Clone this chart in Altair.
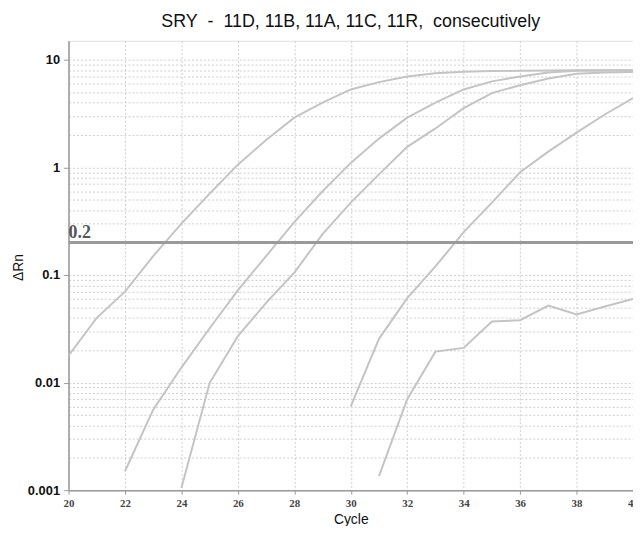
import altair as alt
import pandas as pd

# ---- data ----
samples = ["11D", "11B", "11A", "11C", "11R"]

cyc_11D = list(range(20, 41))
val_11D = [0.0178, 0.040, 0.070, 0.15, 0.30, 0.57, 1.06, 1.8, 2.9, 4.0, 5.3,
           6.2, 7.0, 7.5, 7.75, 7.85, 7.9, 7.95, 8.0, 8.0, 8.0]

cyc_11B = list(range(22, 41))
val_11B = [0.0015, 0.0056, 0.0138, 0.032, 0.072, 0.15, 0.31, 0.60, 1.1, 1.85,
           2.9, 4.0, 5.3, 6.3, 7.0, 7.6, 7.9, 7.95, 8.0]

cyc_11A = list(range(24, 41))
val_11A = [0.00105, 0.0099, 0.027, 0.055, 0.105, 0.24, 0.47, 0.86, 1.55, 2.3,
           3.55, 4.9, 5.8, 6.7, 7.4, 7.6, 7.7]

cyc_11C = list(range(30, 41))
val_11C = [0.006, 0.0255, 0.061, 0.12, 0.25, 0.47, 0.9, 1.4, 2.1, 3.1, 4.4]

cyc_11R = list(range(31, 41))
val_11R = [0.00135, 0.007, 0.0194, 0.021, 0.037, 0.038, 0.052, 0.043, 0.051, 0.06]

threshold = [0.2]
threshold_label = ["0.2"]

x_ticks = [20, 22, 24, 26, 28, 30, 32, 34, 36, 38, 40]
y_ticks = [0.001, 0.01, 0.1, 1, 10]

title_text = "SRY\u00a0\u00a0-\u00a0\u00a011D, 11B, 11A, 11C, 11R,\u00a0\u00a0consecutively"

# ---- build table ----
rows = []
for name, cs, vs in [("11D", cyc_11D, val_11D), ("11B", cyc_11B, val_11B),
                     ("11A", cyc_11A, val_11A), ("11C", cyc_11C, val_11C),
                     ("11R", cyc_11R, val_11R)]:
    for c, v in zip(cs, vs):
        rows.append({"sample": name, "cycle": c, "value": v})
df = pd.DataFrame(rows)

# minor log grid positions (axis styling)
y_grid = sorted({round(d * m, 6) for d in y_ticks[:-1] for m in range(1, 10)} | {10.0})
decade_test = "indexof([0.001, 0.01, 0.1, 1, 10], datum.value) >= 0"

GRID = "#cdcdcd"
AXIS = "#9a9a9a"

x_scale = alt.Scale(domain=[20, 40], nice=False)
y_scale = alt.Scale(type="log", domain=[0.001, 15], nice=False)

x_axis = alt.Axis(
    values=x_ticks, title="Cycle", grid=True, gridColor=GRID, gridDash=[2, 2],
    gridWidth=1, domainColor=AXIS, domainWidth=1.5, tickColor=AXIS, tickSize=4,
    labelFont="Liberation Sans Narrow", labelFontSize=11, labelFontWeight="bold",
    labelColor="#444", labelPadding=3, labelOverlap=False, labelFlush=False,
    titleFont="Liberation Sans", titleFontSize=14, titleFontWeight="normal",
    titleColor="#111", titlePadding=5,
)
y_axis = alt.Axis(
    values=y_grid, title="\u0394Rn", format="~g", grid=True, gridColor=GRID,
    gridDash=[2, 2], gridWidth=1, domainColor=AXIS, domainWidth=1.5,
    tickColor=AXIS, tickSize=5,
    tickOpacity={"condition": {"test": decade_test, "value": 1}, "value": 0},
    labelExpr=decade_test + " ? datum.label : ''",
    labelFont="Liberation Sans", labelFontSize=13, labelFontWeight="bold",
    labelColor="#111", labelPadding=4, labelOverlap=False,
    titleFont="Liberation Sans", titleFontSize=14, titleFontWeight="normal",
    titleColor="#111", titleX=-43, titleY=228,
)

lines = alt.Chart(df).mark_line(color="#c4c4c4", strokeWidth=2, clip=True).encode(
    x=alt.X("cycle:Q", scale=x_scale, axis=x_axis),
    y=alt.Y("value:Q", scale=y_scale, axis=y_axis),
    detail="sample:N",
)

thr_df = pd.DataFrame({"y": threshold, "label": threshold_label, "x": [x_ticks[0]]})
rule = alt.Chart(thr_df).mark_rule(color="#9a9a9a", strokeWidth=3).encode(
    y=alt.Y("y:Q", scale=y_scale)
)
label = alt.Chart(thr_df).mark_text(
    font="Liberation Serif", fontWeight="bold", fontSize=18, color="#555",
    align="left", baseline="bottom", dy=-1
).encode(
    x=alt.X("x:Q", scale=x_scale),
    y=alt.Y("y:Q", scale=y_scale),
    text="label:N",
)

chart = alt.layer(lines, rule, label).properties(
    width=569, height=453,
    title=alt.TitleParams(text=title_text, font="Liberation Sans", fontSize=18,
                          fontWeight="normal", color="#111", anchor="middle",
                          baseline="bottom", offset=12, dy=20),
    autosize=alt.AutoSizeParams(type="none"),
    padding={"left": 61, "top": 31, "right": 0, "bottom": 34},
).configure_view(stroke=AXIS, strokeWidth=1.5).configure(background="white")

chart.save("out.html", embed_options={"renderer": "svg", "actions": False})
